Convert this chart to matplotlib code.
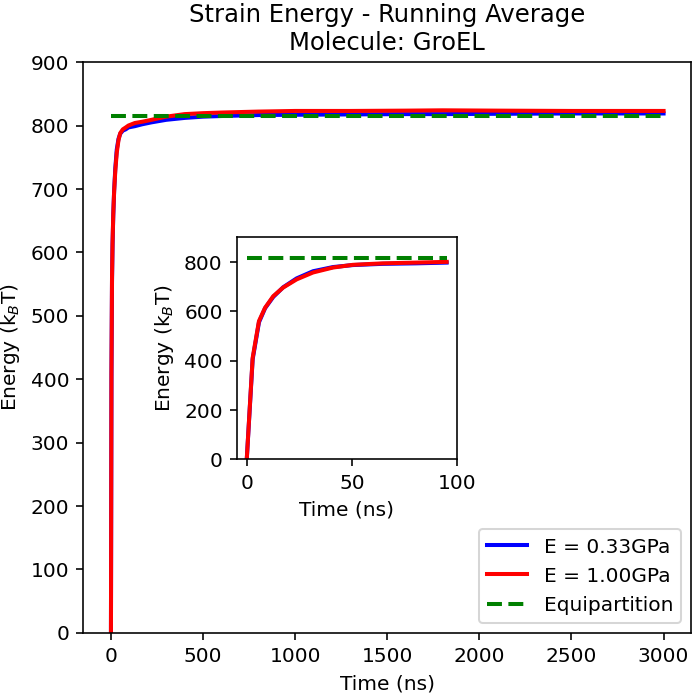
import numpy as np
import matplotlib
matplotlib.use('Agg')
import matplotlib.pyplot as plt

# running average of strain energy (k_B T) vs time (ns)
time_ns = [0, 2.8, 5.8, 8.7, 12.6, 17.3, 23.7, 31.5, 41, 50.4, 64.6, 80.4, 95,
           130, 170, 220, 300, 400, 500, 600, 800, 1000, 1300, 1600, 1800,
           2100, 2500, 3000]
energy_033 = [0, 405, 555, 612, 658, 697, 733, 762, 779, 787, 792, 794, 797,
              799, 802, 805, 809, 812, 814, 815, 816.5, 817, 817.5, 818, 818,
              818.5, 819, 819]
energy_100 = [0, 411, 560, 614, 661, 696, 729, 757, 777, 788, 794, 797, 800,
              804, 806, 809, 814, 818, 819.5, 820.5, 822, 823, 823, 823.5, 824,
              823.5, 823, 823]
equipartition = 815
inset_tmax = 100

labels = ['E = 0.33GPa', 'E = 1.00GPa', 'Equipartition']


def main():
    t = np.array(time_ns)
    e1 = np.array(energy_033)
    e2 = np.array(energy_100)

    fig = plt.figure(figsize=(4.8, 4.8), dpi=145.25)
    ax = fig.add_axes([0.1195, 0.0922, 0.8719, 0.8184])
    ax.plot(t, e1, color='b', lw=2, label=labels[0])
    ax.plot(t, e2, color='r', lw=2, label=labels[1])
    ax.plot([t[0], t[-1]], [equipartition, equipartition], 'g--', lw=2, label=labels[2])
    ax.set_ylim(0, 900)
    ax.set_xlabel('Time (ns)')
    ax.set_ylabel('Energy (k$_B$T)')
    ax.set_title('Strain Energy - Running Average\nMolecule: GroEL')
    ax.legend(loc='lower right')

    # inset: first ~100 ns
    m = t < inset_tmax
    axin = fig.add_axes([0.3396, 0.341, 0.3161, 0.3185])
    axin.plot(t[m], e1[m], color='b', lw=2)
    axin.plot(t[m], e2[m], color='r', lw=2)
    axin.plot([t[m][0], t[m][-1]], [equipartition, equipartition], 'g--', lw=2)
    axin.set_ylim(0, 900)
    axin.set_yticks([0, 200, 400, 600, 800])
    axin.set_xticks([0, 50, 100])
    axin.set_xlabel('Time (ns)')
    axin.set_ylabel('Energy (k$_B$T)')

    fig.savefig('out.png', dpi=145.25)

if __name__ == "__main__":
    main()
